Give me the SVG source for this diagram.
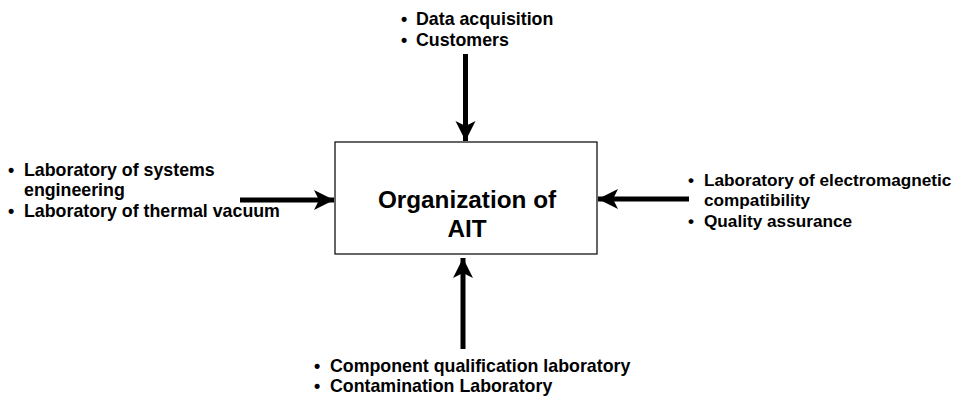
<svg xmlns="http://www.w3.org/2000/svg" width="960" height="396" viewBox="0 0 960 396">
<defs>
<marker id="ah" viewBox="0 0 10 10" refX="10" refY="5" markerWidth="4" markerHeight="4.2" markerUnits="strokeWidth" orient="auto">
<path d="M0,0 L10,5 L0,10 L2.5,5 Z" fill="#000"/>
</marker>
<style>
.t{font-family:"Liberation Sans",Arial,sans-serif;font-weight:bold;font-size:17.8px;fill:#000}
.r{font-size:17.2px}
.c{font-family:"Liberation Sans",Arial,sans-serif;font-weight:bold;font-size:24.3px;fill:#000}
.box{fill:#fff;stroke:#000;stroke-width:1.2}
.ln{stroke:#000;stroke-width:5;fill:none;marker-end:url(#ah)}
</style>
</defs>
<rect width="960" height="396" fill="#fff"/>
<g id="center">
<rect class="box" x="335" y="142" width="262" height="112"/>
<text class="c" x="467" y="208" text-anchor="middle">Organization of</text>
<text class="c" x="467" y="237" text-anchor="middle">AIT</text>
</g>
<g id="top">
<text class="t" x="401" y="25">•</text><text class="t" x="416" y="25">Data acquisition</text>
<text class="t" x="401" y="46">•</text><text class="t" x="416" y="46">Customers</text>
</g>
<g id="left">
<text class="t" x="8" y="176">•</text><text class="t" x="24" y="176">Laboratory of systems</text>
<text class="t" x="24" y="196">engineering</text>
<text class="t" x="8" y="217">•</text><text class="t" x="24" y="217">Laboratory of thermal vacuum</text>
</g>
<g id="right">
<text class="t r" x="688" y="186">•</text><text class="t r" x="704" y="186">Laboratory of electromagnetic</text>
<text class="t r" x="704" y="206">compatibility</text>
<text class="t r" x="688" y="227">•</text><text class="t r" x="704" y="227">Quality assurance</text>
</g>
<g id="bottom">
<text class="t" x="314" y="372">•</text><text class="t" x="330" y="372">Component qualification laboratory</text>
<text class="t" x="314" y="392">•</text><text class="t" x="330" y="392">Contamination Laboratory</text>
</g>
<g id="connectors">
<line class="ln" x1="465.5" y1="54" x2="465.5" y2="141"/>
<line class="ln" x1="463" y1="349" x2="463" y2="258"/>
<line class="ln" x1="240" y1="200" x2="334" y2="200"/>
<line class="ln" x1="689" y1="199" x2="598" y2="199"/>
</g>
</svg>
